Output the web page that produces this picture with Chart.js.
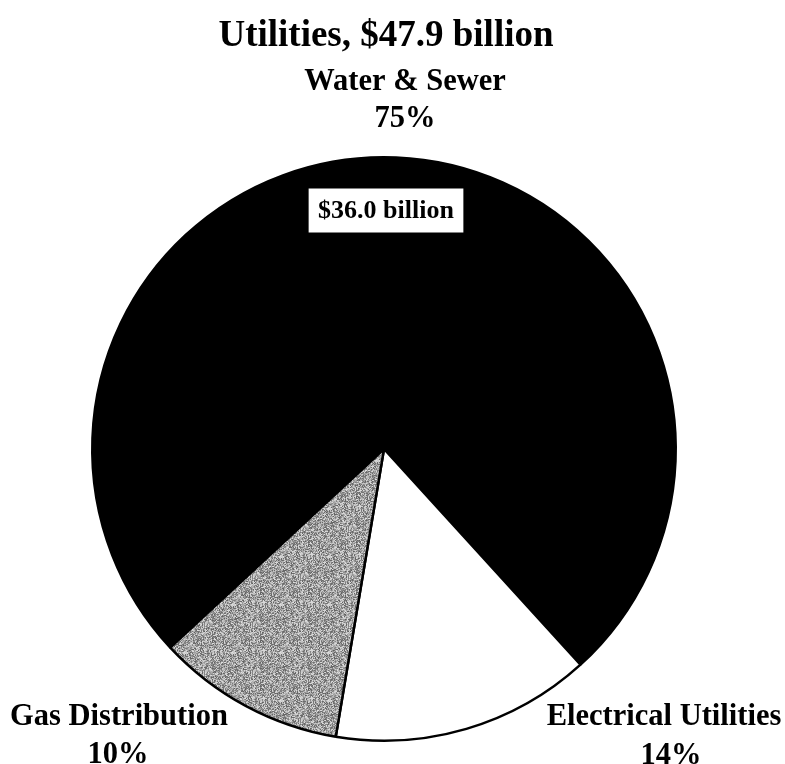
<!DOCTYPE html>
<html>
<head>
<meta charset="utf-8">
<title>Utilities, $47.9 billion</title>
<script src="https://cdn.jsdelivr.net/npm/chart.js@4/dist/chart.umd.min.js"></script>
<style>
  html, body { margin: 0; padding: 0; background: #fff; }
  #wrap { position: relative; width: 785px; height: 764px; overflow: hidden; }
</style>
</head>
<body>
<div id="wrap"><canvas id="pie" width="785" height="764"></canvas></div>
<script>
// ── Data ──────────────────────────────────────────────────────────
const TITLE = 'Utilities, $47.9 billion';
const categories = ['Water & Sewer', 'Electrical Utilities', 'Gas Distribution'];
const spending = [36.0, 6.9, 5.0];            // $ billion
const fills = ['#000000', '#ffffff', '#a3a3a3'];

const total = spending.reduce((s, v) => s + v, 0);
const percents = spending.map(v => Math.round(v / total * 100) + '%');

const SERIF = '"Liberation Serif", "Times New Roman", serif';

// grainy halftone fill for the gas slice
function grainPattern(ctx) {
  const c = document.createElement('canvas');
  c.width = c.height = 48;
  const g = c.getContext('2d');
  const img = g.createImageData(48, 48);
  let h = 12345;
  for (let i = 0; i < 48 * 48; i++) {
    h = (h * 1103515245 + 12345) & 0x7fffffff;
    const v = 95 + ((h >> 8) % 130);
    img.data[i * 4] = img.data[i * 4 + 1] = img.data[i * 4 + 2] = v;
    img.data[i * 4 + 3] = 255;
  }
  g.putImageData(img, 0, 0);
  return ctx.createPattern(c, 'repeat');
}

// ── Text labels drawn after the pie ───────────────────────────────
const labelPlugin = {
  id: 'sliceLabels',
  afterDraw(chart) {
    const ctx = chart.ctx;
    ctx.save();
    ctx.fillStyle = '#000';
    ctx.textAlign = 'center';
    ctx.textBaseline = 'alphabetic';

    ctx.font = 'bold 37px ' + SERIF;
    ctx.fillText(TITLE, 386, 46);

    ctx.font = 'bold 30.5px ' + SERIF;
    ctx.fillText(categories[0], 405, 90);
    ctx.fillText(percents[0], 405, 127);

    ctx.fillText(categories[2], 119, 725);
    ctx.fillText(percents[2], 118, 763);

    ctx.fillText(categories[1], 664, 725);
    ctx.fillText(percents[1], 671, 764);

    // boxed value inside the water slice
    const txt = '$' + spending[0].toFixed(1) + ' billion';
    ctx.font = 'bold 26px ' + SERIF;
    const w = ctx.measureText(txt).width;
    const bx = 386, by = 210;
    ctx.fillStyle = '#fff';
    ctx.fillRect(bx - w / 2 - 10, by - 22, w + 20, 45);
    ctx.strokeStyle = '#000';
    ctx.lineWidth = 1;
    ctx.strokeRect(bx - w / 2 - 10, by - 22, w + 20, 45);
    ctx.fillStyle = '#000';
    ctx.textBaseline = 'middle';
    ctx.fillText(txt, bx, by + 1);
    ctx.restore();
  }
};

const canvas = document.getElementById('pie');
const ctx = canvas.getContext('2d');
fills[2] = grainPattern(ctx);

new Chart(canvas, {
  type: 'pie',
  data: {
    labels: categories,
    datasets: [{
      data: spending,
      backgroundColor: fills,
      borderColor: '#000',
      borderWidth: 2.5
    }]
  },
  options: {
    responsive: false,
    animation: false,
    rotation: 227.1,
    layout: { padding: { top: 156, bottom: 22, left: 91, right: 108 } },
    plugins: { legend: { display: false }, tooltip: { enabled: false } }
  },
  plugins: [labelPlugin]
});
</script>
</body>
</html>
